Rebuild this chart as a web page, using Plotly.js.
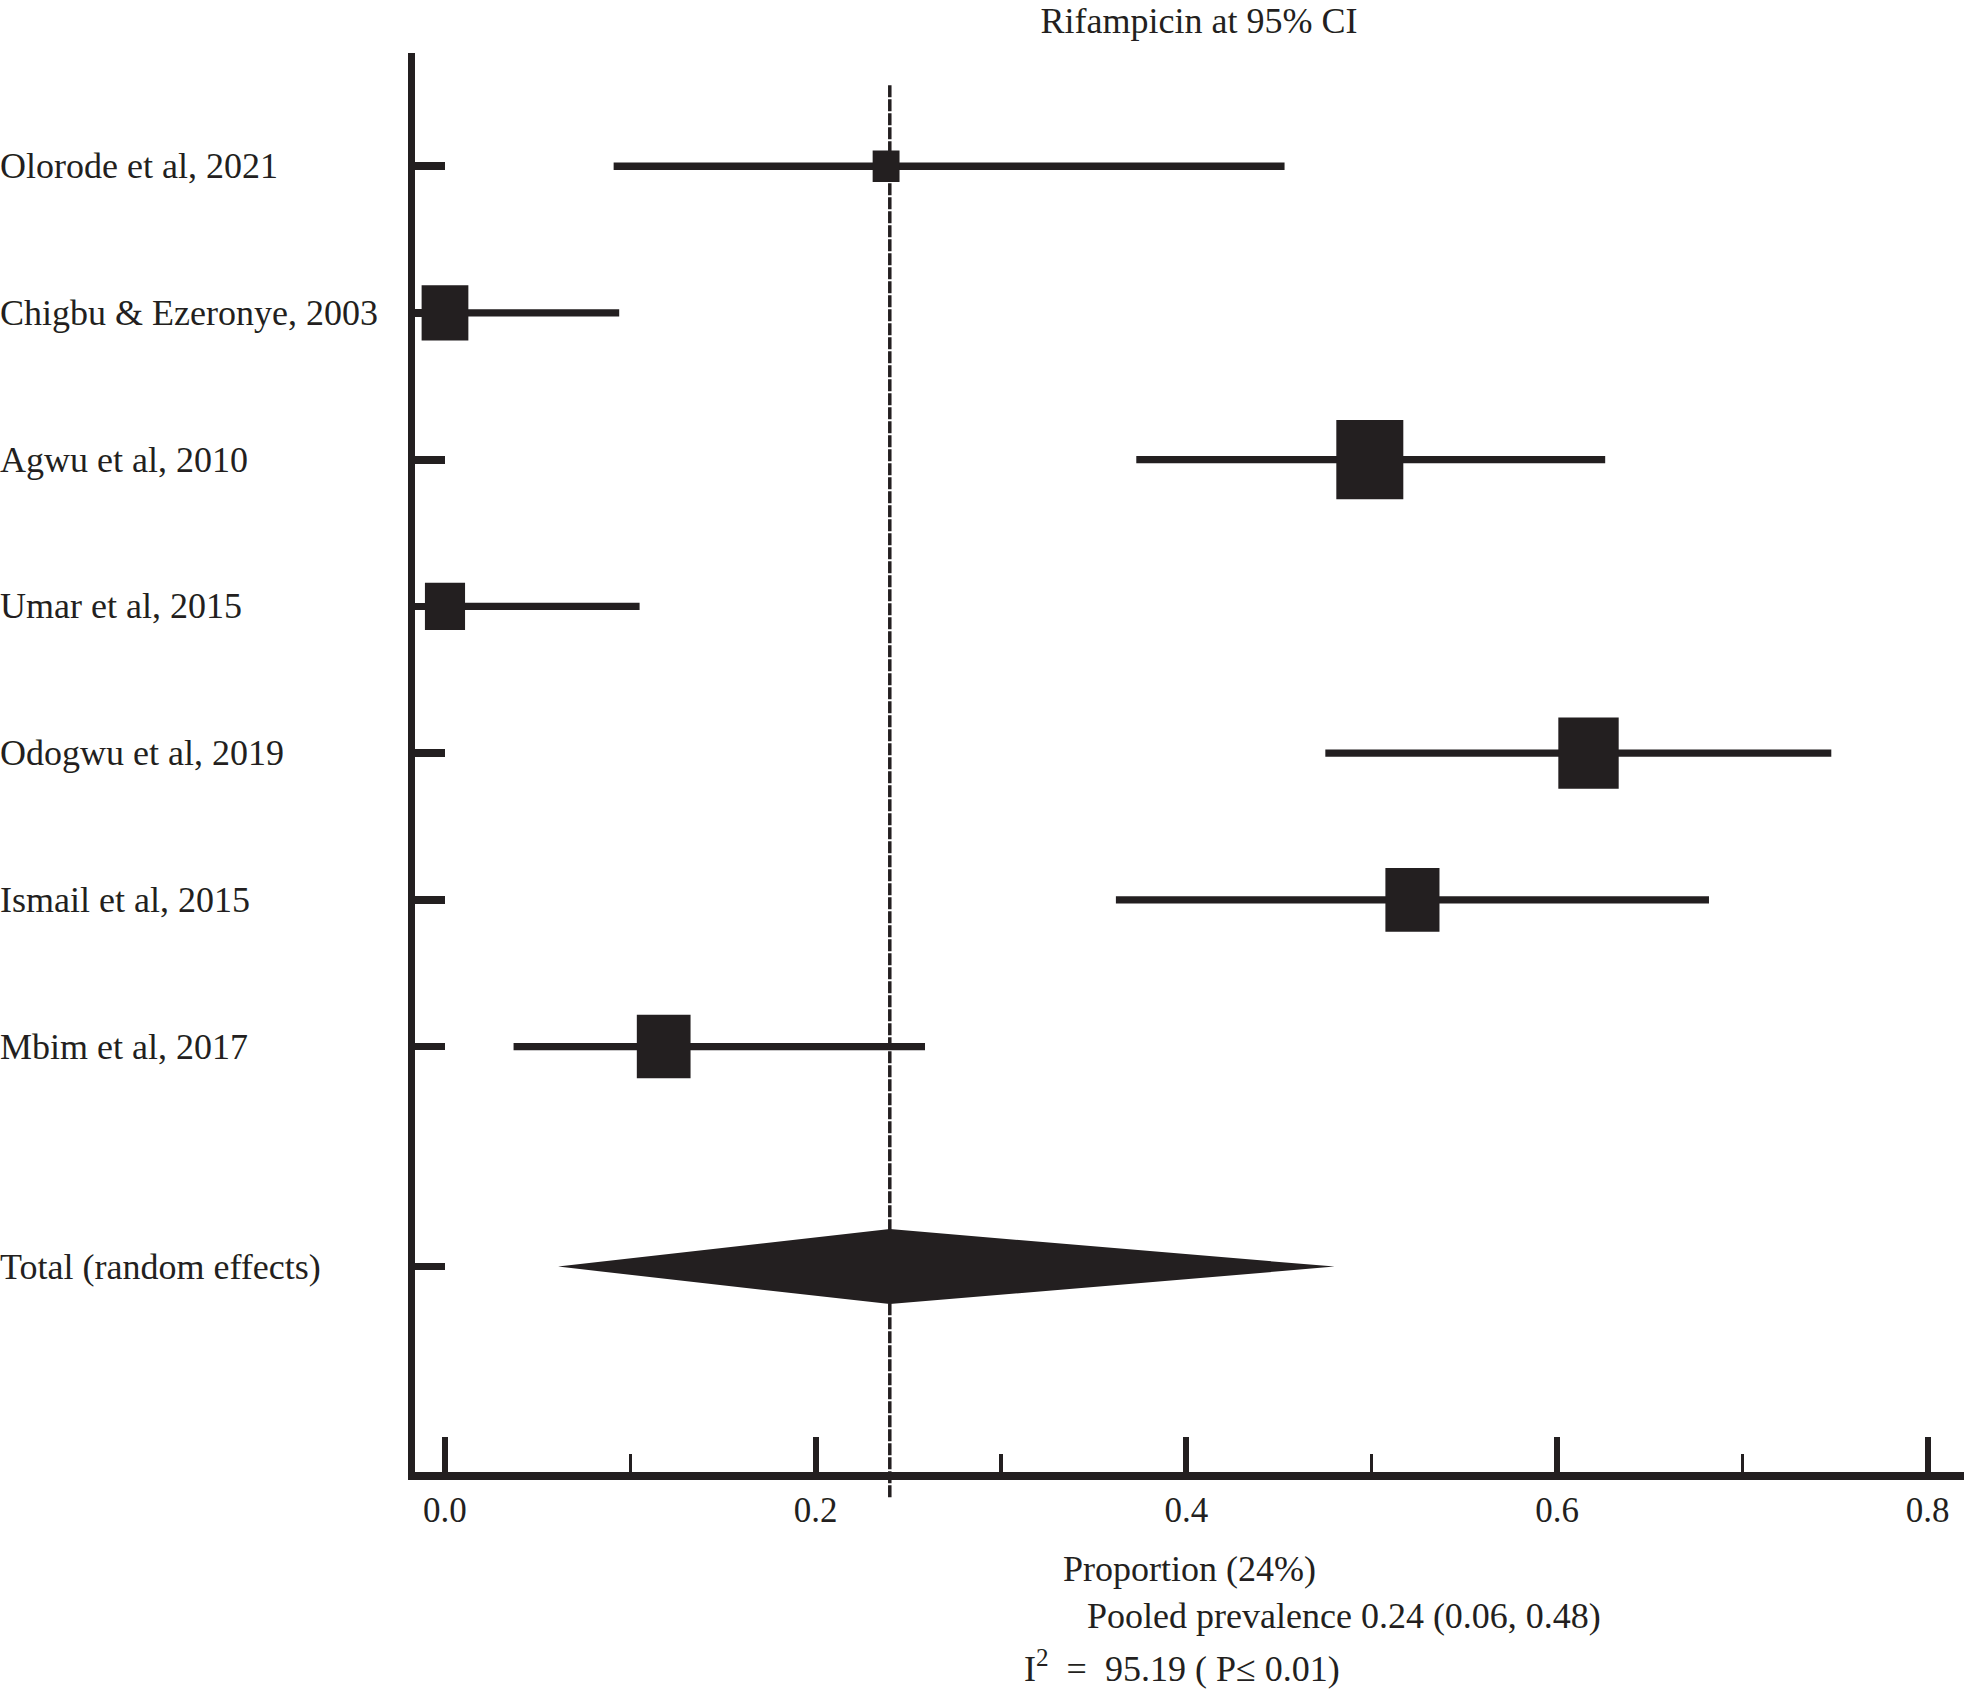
<!DOCTYPE html>
<html>
<head>
<meta charset="utf-8">
<script src="https://cdn.plot.ly/plotly-3.0.1.min.js"></script>
<style>html,body{margin:0;padding:0;background:#fff;}#chart{width:1964px;height:1692px;}</style>
</head>
<body>
<div id="chart"></div>
<script>
// ---- data ----
const studies = ["Olorode et al, 2021", "Chigbu & Ezeronye, 2003", "Agwu et al, 2010", "Umar et al, 2015", "Odogwu et al, 2019", "Ismail et al, 2015", "Mbim et al, 2017"];
const proportion = [0.238, 0.0, 0.499, 0.0, 0.617, 0.522, 0.118];
const ciLower = [0.091, 0.0, 0.373, 0.0, 0.475, 0.362, 0.037];
const ciUpper = [0.453, 0.094, 0.626, 0.105, 0.748, 0.682, 0.259];
const weights = [7.7, 13.4, 19.2, 11.5, 17.3, 15.5, 15.4];
const totalLabel = "Total (random effects)";
const pooledEstimate = 0.24;
const pooledLower = 0.061;
const pooledUpper = 0.48;
const xTickValues = [0, 0.2, 0.4, 0.6, 0.8];
const xTickLabels = ["0.0", "0.2", "0.4", "0.6", "0.8"];
const chartTitle = "Rifampicin at 95% CI";
const xAxisTitle = "Proportion (24%)";
const pooledText = "Pooled prevalence 0.24 (0.06, 0.48)";
const heterogeneityText = "I<sup>2</sup>\u00a0 =\u00a0 95.19 ( P\u2264 0.01)";

// ---- layout geometry ----
const W = 1964, H = 1692;
const M = {l: 414.5, r: 0, t: 53.3, b: 220.3};
const plotW = W - M.l - M.r, plotH = H - M.t - M.b;
const xRange = [-0.01618, 0.8196];
const yRange = [9.900, 0.2281];
const pxPerX = plotW / (xRange[1] - xRange[0]);
const pxPerY = plotH / (yRange[0] - yRange[1]);
const ink = "#231f20";
const serif = "Liberation Serif, Times New Roman, serif";

const rowY = studies.map((s, i) => i + 1);
const totalY = studies.length + 1.5;

// CI lines
const ciX = [], ciY = [];
studies.forEach((s, i) => { ciX.push(ciLower[i], ciUpper[i], null); ciY.push(rowY[i], rowY[i], null); });

// weight boxes (slightly taller than wide, as in the reference)
const boxX = [], boxY = [];
studies.forEach((s, i) => {
  const wpx = weights[i] * 3.49;
  const hw = wpx / 2 / pxPerX, hh = wpx * 1.18 / 2 / pxPerY;
  const cx = proportion[i], cy = rowY[i];
  boxX.push(cx - hw, cx + hw, cx + hw, cx - hw, cx - hw, null);
  boxY.push(cy - hh, cy - hh, cy + hh, cy + hh, cy - hh, null);
});

// diamond
const dh = 37.5 / pxPerY;
const diamondX = [pooledLower, pooledEstimate, pooledUpper, pooledEstimate, pooledLower];
const diamondY = [totalY, totalY - dh, totalY, totalY + dh, totalY];

const traces = [
  {type: "scatter", mode: "lines", x: ciX, y: ciY, line: {color: ink, width: 7.3}, hoverinfo: "skip", showlegend: false, cliponaxis: false},
  {type: "scatter", mode: "lines", x: boxX, y: boxY, fill: "toself", fillcolor: ink, line: {color: ink, width: 0}, hoverinfo: "skip", showlegend: false},
  {type: "scatter", mode: "lines", x: diamondX, y: diamondY, fill: "toself", fillcolor: ink, line: {color: ink, width: 0}, hoverinfo: "skip", showlegend: false}
];

const toPaperY = p => (H - M.b - p) / plotH;
const labelX = -(M.l + 3) / plotW;

const annotations = studies.map((s, i) => ({
  text: s, xref: "paper", yref: "y", x: labelX, y: rowY[i], xanchor: "left", yanchor: "middle",
  showarrow: false, font: {family: serif, size: 36, color: ink}
}));
annotations.push({text: totalLabel, xref: "paper", yref: "y", x: labelX, y: totalY, xanchor: "left", yanchor: "middle",
  showarrow: false, font: {family: serif, size: 36, color: ink}});
annotations.push({text: pooledText, xref: "paper", yref: "paper", x: (1344 - M.l) / plotW, y: toPaperY(1616), xanchor: "center", yanchor: "middle",
  showarrow: false, font: {family: serif, size: 36, color: ink}});
annotations.push({text: heterogeneityText, xref: "paper", yref: "paper", x: (1182 - M.l) / plotW, y: toPaperY(1666), xanchor: "center", yanchor: "middle",
  showarrow: false, font: {family: serif, size: 36, color: ink}});

const layout = {
  width: W, height: H,
  margin: M,
  paper_bgcolor: "#fff", plot_bgcolor: "#fff",
  showlegend: false,
  font: {family: serif, color: ink},
  title: {text: chartTitle, x: 1199 / W, xref: "container", xanchor: "center", y: 1 - 8 / H, yref: "container", yanchor: "top",
    font: {family: serif, size: 36, color: ink}},
  xaxis: {
    range: xRange, showgrid: false, zeroline: false,
    showline: true, linecolor: ink, linewidth: 7.6,
    tickmode: "array", tickvals: xTickValues, ticktext: xTickLabels,
    ticks: "inside", ticklen: 35, tickwidth: 6, tickcolor: ink,
    minor: {ticks: "inside", ticklen: 18, tickwidth: 3.5, tickcolor: ink, dtick: 0.1, tick0: 0, showgrid: false},
    tickfont: {family: serif, size: 35, color: ink},
    title: {text: xAxisTitle, font: {family: serif, size: 36, color: ink}, standoff: 30},
    fixedrange: true
  },
  yaxis: {
    range: yRange, showgrid: false, zeroline: false,
    showline: true, linecolor: ink, linewidth: 7.3,
    tickmode: "array", tickvals: rowY.concat([totalY]),
    ticks: "inside", ticklen: 30, tickwidth: 7.7, tickcolor: ink,
    showticklabels: false, fixedrange: true
  },
  shapes: [{
    type: "line", layer: "below", xref: "x", yref: "paper",
    x0: pooledEstimate, x1: pooledEstimate, y0: toPaperY(1497), y1: toPaperY(84),
    line: {color: ink, width: 3.5, dash: "12px,2px"}
  }],
  annotations: annotations
};

Plotly.newPlot("chart", traces, layout, {displayModeBar: false, staticPlot: true});
</script>
</body>
</html>
